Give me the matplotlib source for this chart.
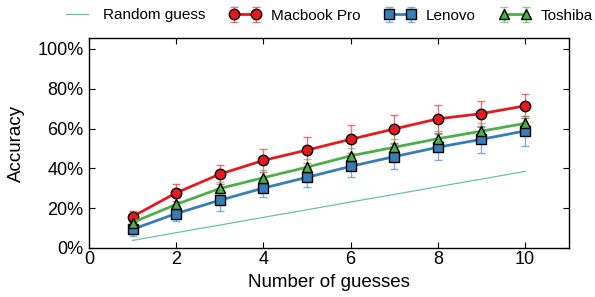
import matplotlib
matplotlib.use("Agg")
import matplotlib.pyplot as plt
from matplotlib.ticker import FuncFormatter

plt.rcParams['font.family'] = ['Liberation Sans', 'DejaVu Sans']

guesses = [1, 2, 3, 4, 5, 6, 7, 8, 9, 10]
random_guess = [3.8, 7.7, 11.5, 15.4, 19.2, 23.1, 26.9, 30.8, 34.6, 38.5]
macbook = [15.8, 27.7, 37.1, 44.0, 49.2, 54.6, 59.8, 64.9, 67.5, 71.4]
macbook_err = [2.9, 4.3, 4.7, 5.9, 6.4, 7.1, 7.1, 6.9, 6.6, 6.2]
lenovo = [9.4, 17.3, 24.0, 30.1, 35.5, 41.0, 45.9, 50.6, 54.6, 58.8]
lenovo_err = [3.5, 3.8, 5.2, 4.7, 5.1, 5.5, 6.1, 6.6, 6.7, 7.5]
toshiba = [12.8, 21.9, 29.9, 35.3, 40.6, 46.3, 50.6, 54.9, 58.7, 62.6]
toshiba_err = [2.5, 3.0, 3.5, 3.8, 3.9, 3.9, 4.0, 4.0, 4.0, 3.8]

fig = plt.figure(figsize=(5.95, 2.97), dpi=100)
ax = fig.add_axes([0.1496, 0.165, 0.806, 0.707])

ax.plot(guesses, random_guess, color='#66c2a5', lw=0.9, label='Random guess')

series = [
    ('Macbook Pro', macbook, macbook_err, '#e41a1c', 'o', 7.5),
    ('Lenovo', lenovo, lenovo_err, '#377eb8', 's', 7.0),
    ('Toshiba', toshiba, toshiba_err, '#4daf4a', '^', 7.5),
]
for name, vals, err, col, mk, ms in series:
    eb = ax.errorbar(guesses, vals, yerr=err, color=col, lw=2.0, marker=mk,
                     markersize=ms, markeredgecolor='black', markeredgewidth=1.0,
                     markerfacecolor=col, ecolor=col, elinewidth=1.0, capsize=3,
                     capthick=1.0, label=name)
    for artist in list(eb[1]) + list(eb[2]):
        artist.set_alpha(0.6)

ax.set_xlim(0, 11)
ax.set_ylim(0, 105.5)
ax.set_xticks([0, 2, 4, 6, 8, 10])
ax.set_yticks([0, 20, 40, 60, 80, 100])
ax.yaxis.set_major_formatter(FuncFormatter(lambda v, p: f"{int(v)}%"))
ax.tick_params(direction='in', top=True, right=True, length=4, width=0.8,
               labelsize=13)
ax.tick_params(axis='x', pad=2.5)
ax.tick_params(axis='y', pad=4)
for s in ax.spines.values():
    s.set_linewidth(1.0)

ax.set_xlabel('Number of guesses', fontsize=13.5)
ax.set_ylabel('Accuracy', fontsize=13.5)
ax.xaxis.set_label_coords(0.5, -0.122)
ax.yaxis.set_label_coords(-0.1334, 0.5)

fig.legend(loc='center left', bbox_to_anchor=(0.0929, 1 - 15.5 / 297), ncol=4,
           frameon=False, fontsize=11, numpoints=2, handlelength=2.04,
           columnspacing=1.55, handletextpad=0.69, borderaxespad=0)

fig.savefig('out.png', dpi=100)
